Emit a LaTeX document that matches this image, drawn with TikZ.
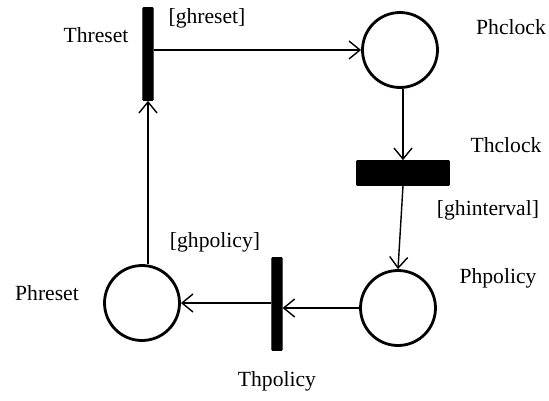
\documentclass[tikz,border=0pt]{standalone}
\usepackage{fontspec}
\setmainfont{Liberation Serif}
\usepackage{tikz}
\usetikzlibrary{arrows.meta,positioning}

\begin{document}
\begin{tikzpicture}[
x=0.02cm, y=-0.02cm,
place/.style={
  draw,
  circle,
  line width=1.6pt,
  minimum size=1.5cm,
  inner sep=0pt
  },
trans/.style={
  draw,
  fill=black,
  rounded corners=0.5pt,
  inner sep=0pt
  },
vbar/.style={
  trans,
  minimum width=0.21cm,
  minimum height=1.86cm
  },
hbar/.style={
  trans,
  minimum width=1.86cm,
  minimum height=0.5cm
  },
lbl/.style={
  font=\fontsize{12.3}{14}\selectfont,
  inner sep=0pt
  },
arc/.style={
  ->,
  line width=0.8pt
  },
>={Straight Barb[length=2.2mm,width=3.6mm,line width=0.8pt]}
]
\useasboundingbox (0,0) rectangle (549,400);

% places and transitions
\node[vbar]  (Threset)  at (148,54)  {};
\node[place] (Phclock)  at (400,50)  {};
\node[hbar]  (Thclock)  at (403,173) {};
\node[place] (Phpolicy) at (398,308) {};
\node[vbar]  (Thpolicy) at (277,304) {};
\node[place] (Phreset)  at (142,303) {};

% labels
\node[lbl] (lThreset)  at (96,35)   {Threset};
\node[lbl] (gThreset)  at (207,18)  {[ghreset]};
\node[lbl] (lPhclock)  at (511,27)  {Phclock};
\node[lbl] (lThclock)  at (506,145) {Thclock};
\node[lbl] (gThclock)  at (488,210) {[ghinterval]};
\node[lbl] (lPhpolicy) at (498,278) {Phpolicy};
\node[lbl] (gThpolicy) at (215,242) {[ghpolicy]};
\node[lbl] (lThpolicy) at (277,381) {Thpolicy};
\node[lbl] (lPhreset)  at (47,293)  {Phreset};

% arcs
\draw[arc] (Threset.east |- Phclock.west) -- (Phclock.west);
\draw[arc] (Thclock.north |- Phclock.south) -- (Thclock.north);
\draw[arc] (Thclock.south) -- (Phpolicy.north);
\draw[arc] (Phpolicy.west) -- (Thpolicy.east |- Phpolicy.west);
\draw[arc] (Thpolicy.west |- Phreset.east) -- (Phreset.east);
\draw[arc] (Threset.south |- Phreset.north) -- (Threset.south);
\end{tikzpicture}
\end{document}
